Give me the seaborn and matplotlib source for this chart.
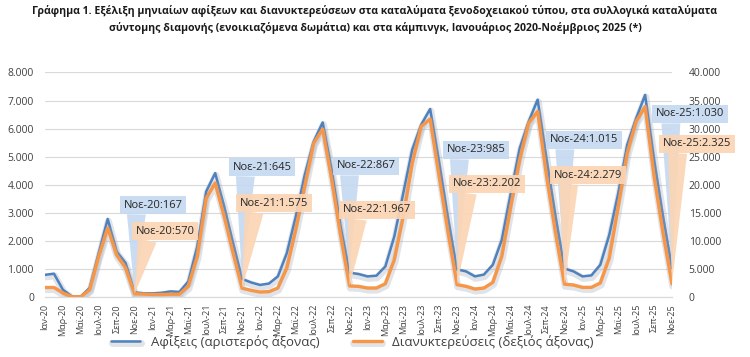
import numpy as np
import pandas as pd
import matplotlib
matplotlib.use("Agg")
import matplotlib.pyplot as plt
import matplotlib.patheffects as pe
from matplotlib.ticker import FuncFormatter, MultipleLocator
import seaborn as sns

# monthly data, Jan 2020 - Nov 2025
month_names = ["Ιαν", "Φεβ", "Μαρ", "Απρ", "Μαϊ", "Ιουν", "Ιουλ", "Αυγ", "Σεπ", "Οκτ", "Νοε", "Δεκ"]
years = ["20", "21", "22", "23", "24", "25"]
labels = [f"{m}-{y}" for y in years for m in month_names][:71]

arrivals = [
    790, 830, 260, 20, 20, 330, 1570, 2780, 1620, 1210, 167, 133,
    130, 150, 200, 180, 555, 1800, 3760, 4415, 3230, 1920, 645, 520,
    430, 480, 735, 1565, 2870, 4350, 5540, 6220, 4530, 2520, 867, 820,
    735, 760, 1090, 2160, 3700, 5250, 6140, 6700, 4800, 2800, 985, 914,
    735, 800, 1150, 2040, 3700, 5300, 6250, 7030, 4900, 2870, 1015, 914,
    735, 770, 1150, 2220, 3700, 5420, 6370, 7200, 4890, 2870, 1030,
]
stays = [
    1700, 1700, 700, 50, 50, 1300, 7240, 12300, 7500, 5160, 570, 530,
    450, 450, 500, 500, 1900, 7240, 17600, 20300, 14360, 7830, 1575, 1190,
    890, 950, 1600, 5160, 12000, 19700, 27400, 29900, 21000, 11000, 1967, 1900,
    1600, 1600, 2370, 6650, 14360, 23850, 30400, 31700, 21500, 11500, 2202, 1900,
    1420, 1600, 2600, 7240, 16100, 24450, 31000, 33050, 21500, 11400, 2279, 2140,
    1720, 1720, 2500, 6950, 16100, 25600, 31300, 33900, 21500, 11400, 2325,
]

# November callouts
nov_years = ["20", "21", "22", "23", "24", "25"]
nov_arr = [167, 645, 867, 985, 1015, 1030]
nov_stay = [570, 1575, 1967, 2202, 2279, 2325]

df = pd.DataFrame({"m": np.arange(len(labels)), "arr": arrivals, "stay": stays})

sns.set_style("white")
plt.rcParams["font.family"] = ["Open Sans", "DejaVu Sans"]

BLUE = "#4f81bd"
ORANGE = "#f79646"
TXT = "#404040"

fig = plt.figure(figsize=(7.5, 3.57), dpi=100)
ax = fig.add_axes([0.06, 0.168, 0.836, 0.629])
ax2 = ax.twinx()

shadow = [pe.SimpleLineShadow(offset=(0.5, -1.5), shadow_color="#9aa5b5", alpha=0.3, linewidth=5), pe.Normal()]
sns.lineplot(data=df, x="m", y="arr", ax=ax, color=BLUE, linewidth=1.8,
             label="Αφίξεις (αριστερός άξονας)", legend=False, path_effects=shadow)
sns.lineplot(data=df, x="m", y="stay", ax=ax2, color=ORANGE, linewidth=2.4,
             label="Διανυκτερεύσεις (δεξιός άξονας)", legend=False, path_effects=shadow)

ax.set_xlim(0, len(labels) - 1)
ax.set_ylim(0, 8000)
ax2.set_ylim(0, 40000)
ax.yaxis.set_major_locator(MultipleLocator(1000))
ax2.yaxis.set_major_locator(MultipleLocator(5000))
fmt = FuncFormatter(lambda v, p: f"{int(v):,}".replace(",", "."))
ax.yaxis.set_major_formatter(fmt)
ax2.yaxis.set_major_formatter(fmt)

ax.set_xticks(df["m"][::2])
ax.set_xticklabels(labels[::2], rotation=90, fontsize=6.5, color=TXT)
ax.tick_params(axis="x", length=3, color="#d9d9d9", pad=2)
ax.tick_params(axis="y", length=0, labelsize=7.5, labelcolor=TXT, pad=8)
ax2.tick_params(axis="y", length=0, labelsize=7.5, labelcolor=TXT, pad=12)
ax.grid(axis="y", color="#d9d9d9", linewidth=0.8)
ax.set_xlabel("")
ax.set_ylabel("")
ax2.set_ylabel("")
for a in (ax, ax2):
    for s in ["top", "left", "right"]:
        a.spines[s].set_visible(False)
    a.spines["bottom"].set_color("#d9d9d9")

# callouts for November values (text positions in figure pixels)
blue_pos = [(153, 152), (262, 190), (366, 191), (476, 207), (584, 217), (690, 243)]
orange_pos = [(165, 126), (274, 154), (377, 147), (487, 173), (588, 182), (697, 213)]


def callout(text, xy, trans, pos, colour, z):
    ax2.annotate(text, xy=xy, xycoords=trans, xytext=pos, textcoords="figure pixels",
                 ha="center", va="center", fontsize=8, color="#262626",
                 bbox=dict(boxstyle="square,pad=0.35", fc=colour, ec="none", alpha=0.92),
                 arrowprops=dict(arrowstyle="wedge,tail_width=1.7", fc=colour, ec="none",
                                 alpha=0.92, shrinkA=0, shrinkB=0, relpos=(0.22, 0.1)),
                 annotation_clip=False, zorder=z)


for i, y in enumerate(nov_years):
    m = labels.index(f"Νοε-{y}")
    callout(f"Νοε-{y}:{nov_arr[i]:,}".replace(",", "."), (m, nov_arr[i]), ax.transData,
            blue_pos[i], "#c6d9f1", 2.2)
for i, y in enumerate(nov_years):
    m = labels.index(f"Νοε-{y}")
    callout(f"Νοε-{y}:{nov_stay[i]:,}".replace(",", "."), (m, nov_stay[i]), ax2.transData,
            orange_pos[i], "#fcd5b4", 2.3)

fig.suptitle("Γράφημα 1. Εξέλιξη μηνιαίων αφίξεων και διανυκτερεύσεων στα καταλύματα ξενοδοχειακού τύπου, στα συλλογικά καταλύματα\n"
             "σύντομης διαμονής (ενοικιαζόμενα δωμάτια) και στα κάμπινγκ, Ιανουάριος 2020-Νοέμβριος 2025 (*)",
             fontsize=7.6, fontweight="bold", y=0.985, color="#1a1a1a", linespacing=1.5)

h1, l1 = ax.get_legend_handles_labels()
h2, l2 = ax2.get_legend_handles_labels()
fig.legend(h1 + h2, l1 + l2, loc="lower center", bbox_to_anchor=(0.47, -0.01), ncol=2,
           frameon=False, fontsize=9.5, handlelength=2.2, columnspacing=2.5,
           labelcolor=TXT)

fig.savefig("out.png", dpi=100)
